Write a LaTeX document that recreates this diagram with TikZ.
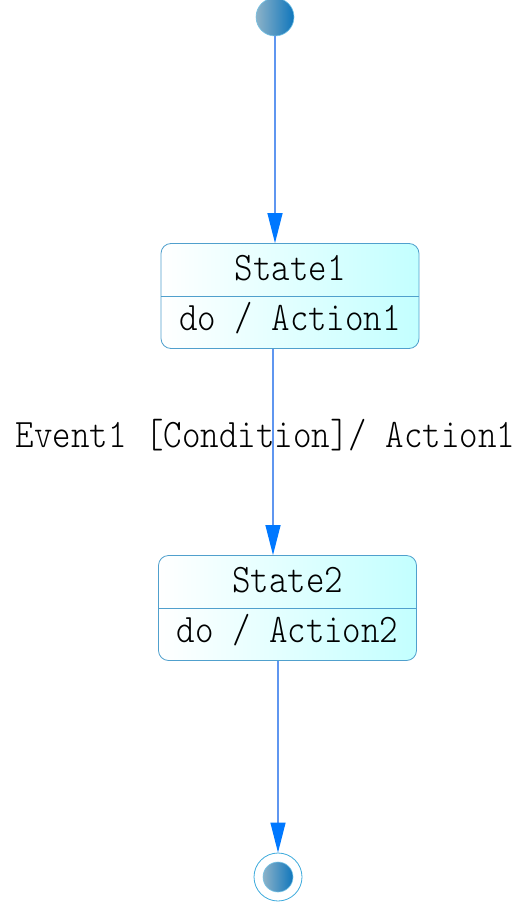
\documentclass[tikz,border=0pt]{standalone}
\usepackage{fontspec}
\newfontfamily\statefont[FakeStretch=0.87]{Latin Modern Mono Light}
\usetikzlibrary{arrows.meta,calc}
\definecolor{boxline}{RGB}{80,160,205}
\definecolor{boxfill}{RGB}{195,255,255}
\definecolor{linecol}{RGB}{95,150,240}
\definecolor{tipcol}{RGB}{0,120,255}
\definecolor{balla}{RGB}{140,178,200}
\definecolor{ballb}{RGB}{15,118,188}
\definecolor{ringcol}{RGB}{60,170,220}
\begin{document}
\begin{tikzpicture}[x=1pt,y=-1pt,
 >={Triangle[length=30pt,width=15pt,color=tipcol]},
 st/.style={draw=boxline,line width=.8pt,rounded corners=10pt,minimum width=258pt,
  minimum height=105pt,left color=white,right color=boxfill},
 t/.style={font=\statefont\fontsize{40.5}{44}\selectfont,inner sep=0pt,anchor=base},
 ball/.style={circle,draw=ringcol!70!white,line width=.6pt,inner sep=0pt,
  left color=balla,right color=ballb},
 f/.style={->,draw=linecol,line width=1.3pt}]
\useasboundingbox (0,0) rectangle (526,912);
% Start and end points.
\node[ball,minimum size=38pt] (ini) at (275,17) {};
\node[circle,draw=ringcol,line width=.8pt,fill=white,minimum size=48pt] (fin) at (278,877) {};
\node[ball,minimum size=30pt] (finc) at (fin) {};
% The two states, name above the divider, do-action below it.
\node[st] (s1) at (290,296) {};
\draw[boxline,line width=.8pt] (s1.west) -- (s1.east);
\node[t] (s1n) at (290,280) {State1};
\node[t] (s1a) at (290,330) {do / Action1};
\node[st] (s2) at (287.5,608) {};
\draw[boxline,line width=.8pt] (s2.west) -- (s2.east);
\node[t] (s2n) at (287.5,592) {State2};
\node[t] (s2a) at (287.5,642) {do / Action2};
% Transitions.
\node[t] (ev) at (265.5,447) {Event1 [Condition]/ Action1};
\draw[f] (ini.south) -- (ini |- s1.north);
\draw[f] ($(s1.south)+(-17,0)$) coordinate (a) -- (a |- s2.north);
\draw[f] (fin |- s2.south) -- (fin.north);
\end{tikzpicture}
\end{document}
